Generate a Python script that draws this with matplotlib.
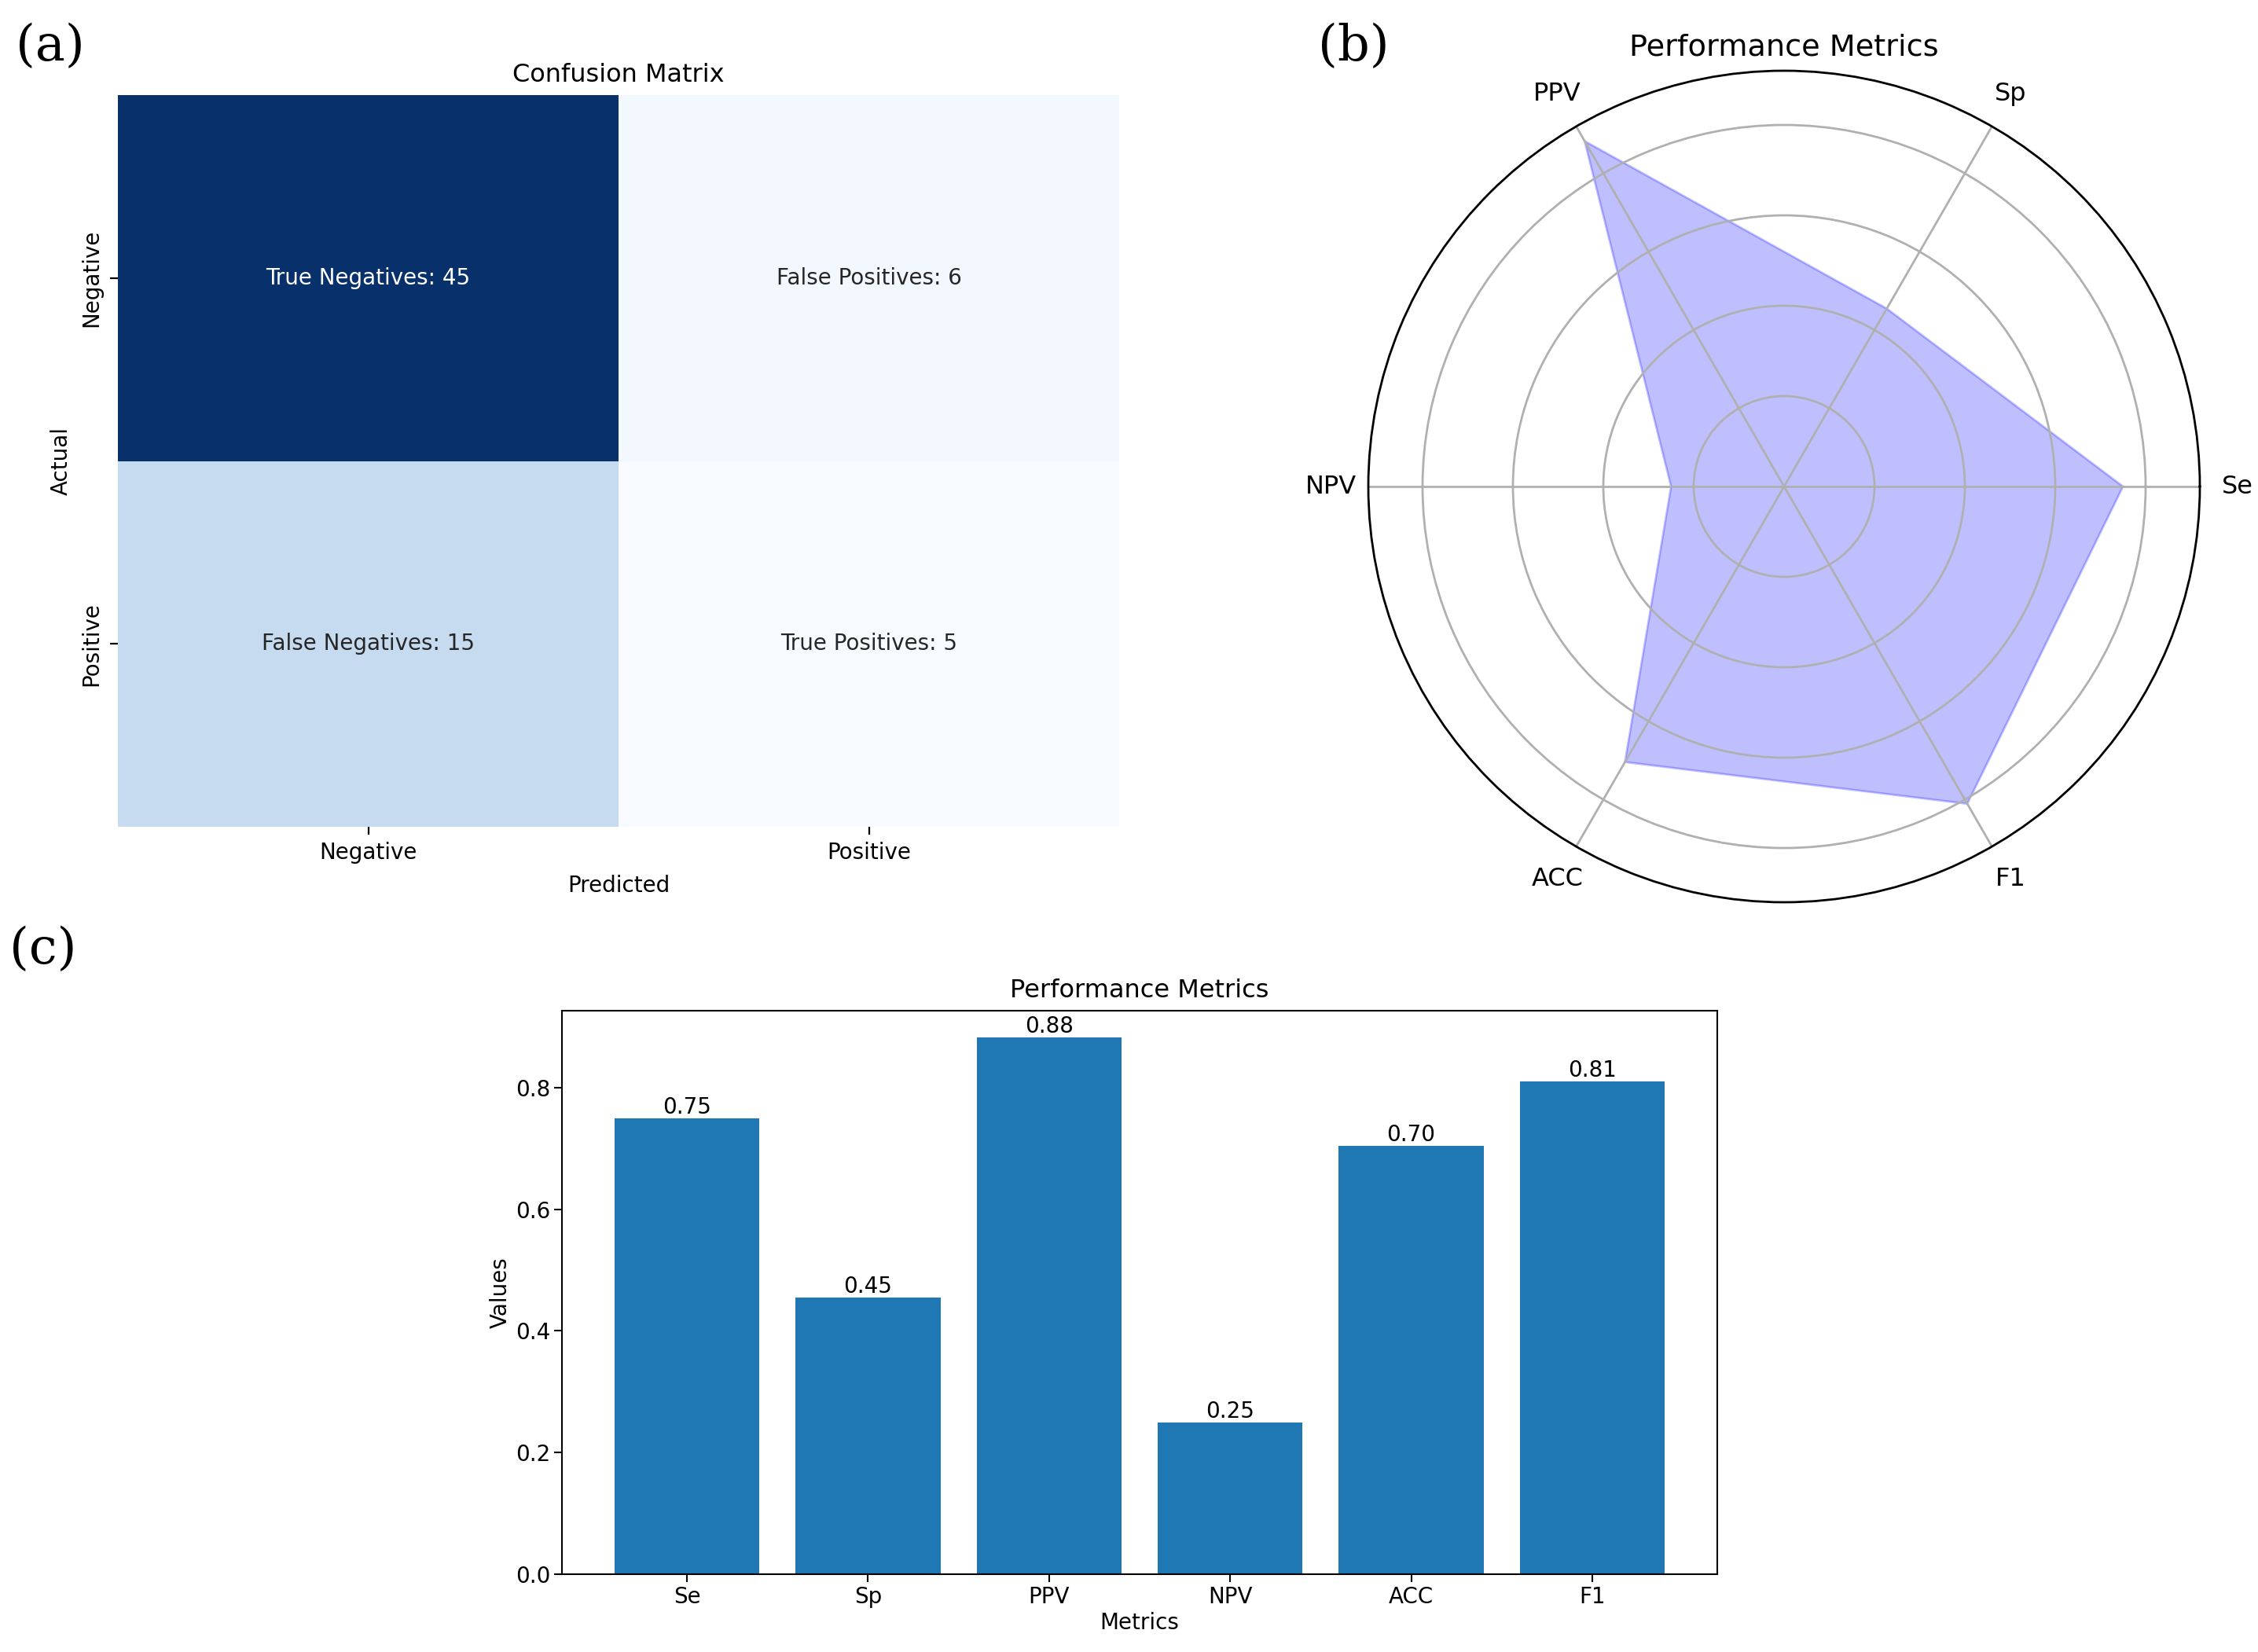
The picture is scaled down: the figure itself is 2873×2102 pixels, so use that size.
import matplotlib
matplotlib.use("Agg")
import matplotlib.pyplot as plt
import numpy as np
import seaborn as sns

# confusion matrix data
class_names = ["Negative", "Positive"]
cm_counts = [[45, 6], [15, 5]]
cm_names = [["True Negatives", "False Positives"],
            ["False Negatives", "True Positives"]]

# performance metrics
metric_names = ["Se", "Sp", "PPV", "NPV", "ACC", "F1"]
metric_values = [0.75, 0.4545, 0.8824, 0.25, 0.7042, 0.8108]

W, H = 2873, 2102
fig = plt.figure(figsize=(W / 100, H / 100), dpi=100)


def box(x0, y0, x1, y1):
    # pixel box (top-left origin) -> figure fraction rect
    return [x0 / W, 1 - y1 / H, (x1 - x0) / W, (y1 - y0) / H]


# (a) confusion matrix
ax_cm = fig.add_axes(box(150, 121, 1424, 1052))
annot = np.array([[f"{n}: {c}" for n, c in zip(rn, rc)]
                  for rn, rc in zip(cm_names, cm_counts)])
sns.heatmap(np.array(cm_counts), annot=annot, fmt="", cmap="Blues", cbar=False,
            ax=ax_cm, annot_kws={"fontsize": 20},
            xticklabels=class_names, yticklabels=class_names)
ax_cm.set_title("Confusion Matrix", fontsize=23, pad=12)
ax_cm.set_xlabel("Predicted", fontsize=20, labelpad=10)
ax_cm.set_ylabel("Actual", fontsize=20, labelpad=8)
ax_cm.tick_params(labelsize=20, length=7, width=1.6, pad=7)
plt.setp(ax_cm.get_yticklabels(), rotation=90, va="center")

# (b) radar chart
angles = np.linspace(0, 2 * np.pi, len(metric_names), endpoint=False)
ax_r = fig.add_axes(box(1741, 90, 2799, 1148), projection="polar")
ax_r.fill(np.append(angles, angles[0]), np.append(metric_values, metric_values[0]),
          color="blue", alpha=0.25, linewidth=2)
ax_r.set_ylim(0, 0.92)
ax_r.set_yticks([0.2, 0.4, 0.6, 0.8])
ax_r.set_yticklabels([])
ax_r.set_xticks(angles)
ax_r.set_xticklabels(metric_names, fontsize=23)
ax_r.tick_params(axis="x", pad=24)
ax_r.grid(True, color="#b0b0b0", linewidth=2)
ax_r.spines["polar"].set_linewidth(2)
ax_r.set_title("Performance Metrics", fontsize=27.5, pad=14)

# (c) bar chart
ax_b = fig.add_axes(box(715, 1286, 2185, 2003))
bars = ax_b.bar(metric_names, metric_values, color="C0")
for rect, v in zip(bars, metric_values):
    ax_b.text(rect.get_x() + rect.get_width() / 2, v, f"{v:.2f}",
              ha="center", va="bottom", fontsize=20)
ax_b.set_title("Performance Metrics", fontsize=23, pad=12)
ax_b.set_xlabel("Metrics", fontsize=20)
ax_b.set_ylabel("Values", fontsize=20)
ax_b.tick_params(labelsize=20, length=7, width=1.5)
for s in ax_b.spines.values():
    s.set_linewidth(1.5)

# panel labels
for lbl, (px, py) in {"(a)": (64, 60), "(b)": (1722, 60), "(c)": (55, 1209)}.items():
    fig.text(px / W, 1 - py / H, lbl, fontsize=46, family="DejaVu Serif",
             ha="center", va="center")

fig.savefig("out.png", dpi=100)
